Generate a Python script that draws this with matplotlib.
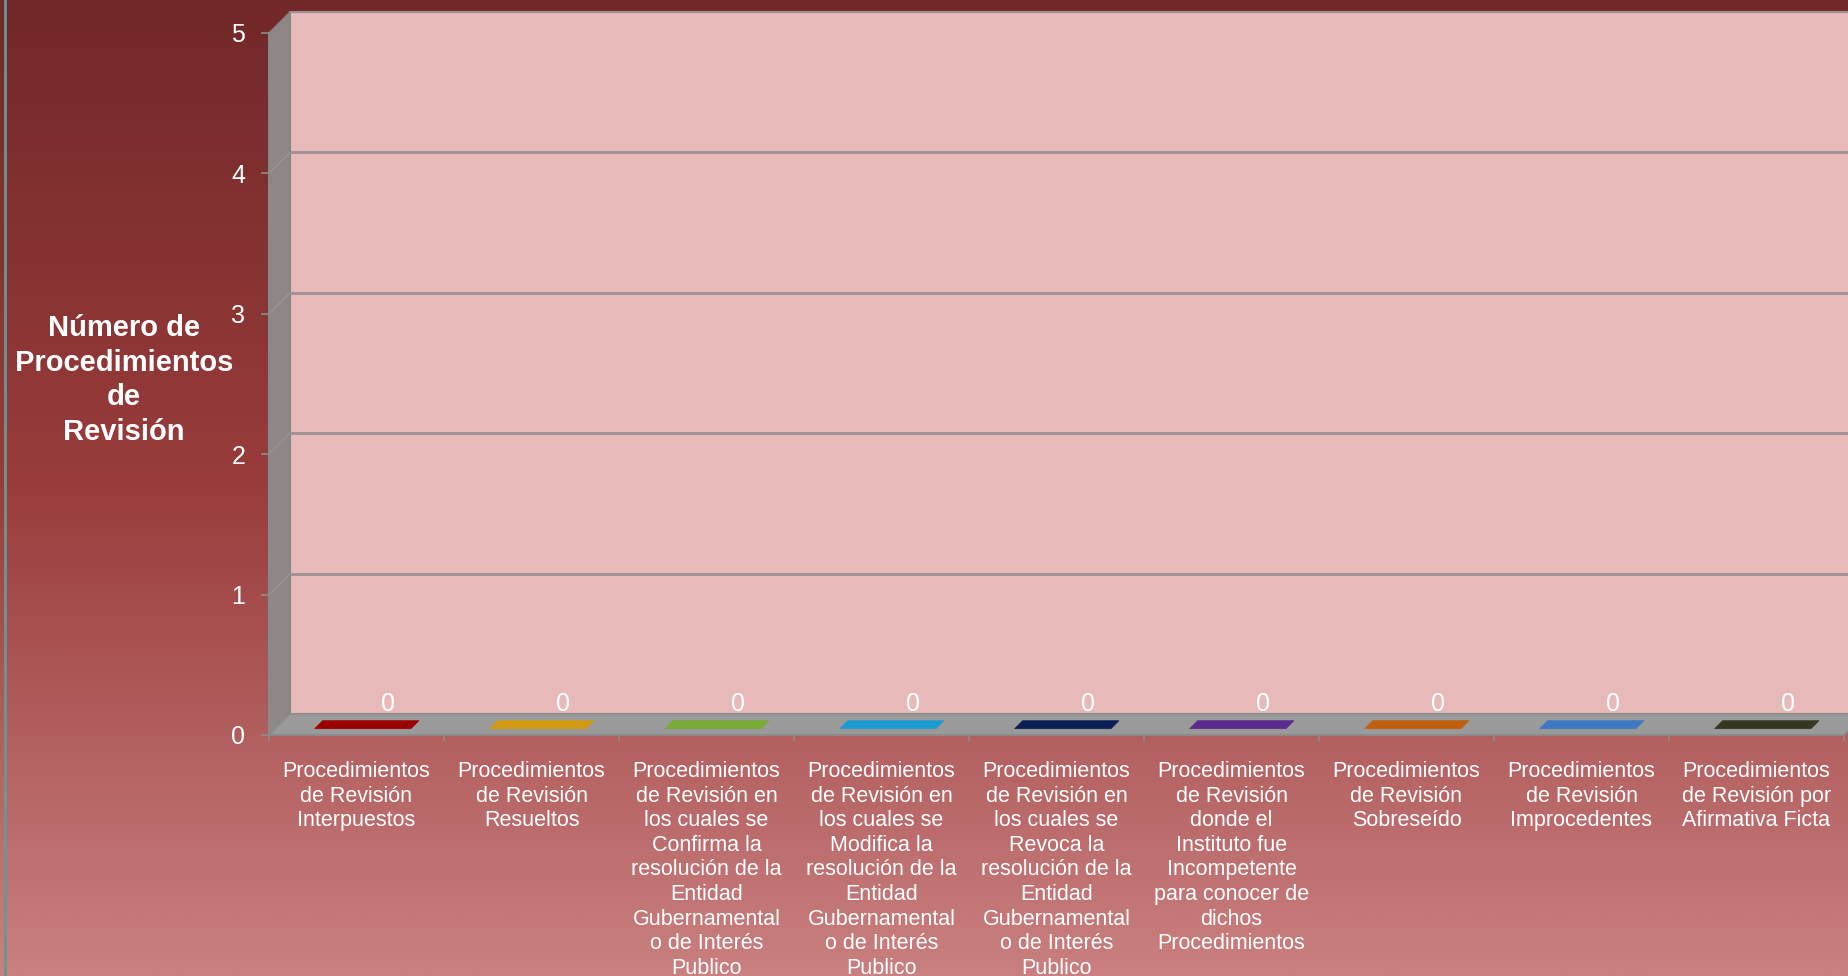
import numpy as np
import matplotlib
matplotlib.use("Agg")
import matplotlib.pyplot as plt
from matplotlib.patches import Polygon
from matplotlib.colors import LinearSegmentedColormap
import matplotlib.transforms as mtransforms

plt.rcParams['font.family'] = ['Liberation Sans', 'DejaVu Sans']

# ---------------- data ----------------
categories = [
    "Procedimientos\nde Revisión\nInterpuestos",
    "Procedimientos\nde Revisión\nResueltos",
    "Procedimientos\nde Revisión en\nlos cuales se\nConfirma la\nresolución de la\nEntidad\nGubernamental\no de Interés\nPublico",
    "Procedimientos\nde Revisión en\nlos cuales se\nModifica la\nresolución de la\nEntidad\nGubernamental\no de Interés\nPublico",
    "Procedimientos\nde Revisión en\nlos cuales se\nRevoca la\nresolución de la\nEntidad\nGubernamental\no de Interés\nPublico",
    "Procedimientos\nde Revisión\ndonde el\nInstituto fue\nIncompetente\npara conocer de\ndichos\nProcedimientos",
    "Procedimientos\nde Revisión\nSobreseído",
    "Procedimientos\nde Revisión\nImprocedentes",
    "Procedimientos\nde Revisión por\nAfirmativa Ficta",
]
values = [0, 0, 0, 0, 0, 0, 0, 0, 0]
bar_colors = ["#9a0000", "#d29a12", "#78ab37", "#1e9ad2", "#0b1f55",
              "#5a2a8c", "#c0600e", "#3f78c2", "#37361f"]
y_ticks = [0, 1, 2, 3, 4, 5]
y_title = "Número de\nProcedimientos\nde\nRevisión"

# ---------------- figure ----------------
W, H, DPI = 1848, 976, 100
fig = plt.figure(figsize=(W / DPI, H / DPI), dpi=DPI)

# gradient background
bg = fig.add_axes([0, 0, 1, 1], zorder=-10)
cmap = LinearSegmentedColormap.from_list(
    "bg", [(0.0, (114/255, 40/255, 40/255)),
           (0.5, (154/255, 60/255, 60/255)),
           (1.0, (202/255, 128/255, 128/255))])
grad = np.linspace(0, 1, 512).reshape(-1, 1)
bg.imshow(grad, aspect="auto", cmap=cmap, extent=[0, 1, 1, 0])
bg.set_xlim(0, 1); bg.set_ylim(1, 0)
bg.axis("off")
bg.axvline(4.5 / W, color="#7c8f8c", lw=2)

# main (front plane) axes
x0, x1 = 269, 1844
y0, y1 = 735, 33
ax = fig.add_axes([x0 / W, 1 - y0 / H, (x1 - x0) / W, (y0 - y1) / H])
ax.set_xlim(-0.5, len(categories) - 0.5)
ax.set_ylim(0, 5)
ax.patch.set_alpha(0)

DX, DY = 21, 21  # depth offset in pixels


def P(x, y, d):
    px, py = ax.transData.transform((x, y))
    return (px + d * DX, py + d * DY)


ident = mtransforms.IdentityTransform()
n = len(categories)

# back wall
bw = [P(-0.5, 0, 1), P(n - 0.5, 0, 1), P(n - 0.5, 5, 1), P(-0.5, 5, 1)]
ax.add_patch(Polygon(bw, closed=True, transform=ident, facecolor="#e7b9b9",
                     edgecolor="#9a8e8e", lw=1.5, clip_on=False, zorder=0))
# side wall
sw = [P(-0.5, 0, 0), P(-0.5, 0, 1), P(-0.5, 5, 1), P(-0.5, 5, 0)]
ax.add_patch(Polygon(sw, closed=True, transform=ident, facecolor="#8f8686",
                     edgecolor="#8a8282", lw=1, clip_on=False, zorder=1))
# gridlines on back wall and side wall
for t in y_ticks[1:-1]:
    a, b = P(-0.5, t, 1), P(n - 0.5, t, 1)
    ax.plot([a[0], b[0]], [a[1], b[1]], transform=ident, color="#a08f91",
            lw=2, clip_on=False, zorder=0.5)
    c = P(-0.5, t, 0)
    ax.plot([c[0], a[0]], [c[1], a[1]], transform=ident, color="#9b9494",
            lw=1, clip_on=False, zorder=1.5)
# floor
fl = [P(-0.5, 0, 0), P(n - 0.5, 0, 0), P(n - 0.5, 0, 1), P(-0.5, 0, 1)]
ax.add_patch(Polygon(fl, closed=True, transform=ident, facecolor="#9a9a9a",
                     edgecolor="#8c8c8c", lw=1, clip_on=False, zorder=2))

# bars (front faces) and their top faces
xs = np.arange(n)
bw_ = 0.55
bar_off = mtransforms.ScaledTranslation(0.3 * DX / DPI, 0.3 * DY / DPI,
                                        fig.dpi_scale_trans)
ax.bar(xs, values, width=bw_, color=bar_colors, zorder=3,
       transform=ax.transData + bar_off)
for x, v, c in zip(xs, values, bar_colors):
    top = [P(x - bw_ / 2, v, 0.3), P(x + bw_ / 2, v, 0.3),
           P(x + bw_ / 2, v, 0.68), P(x - bw_ / 2, v, 0.68)]
    ax.add_patch(Polygon(top, closed=True, transform=ident, facecolor=c,
                         edgecolor=c, lw=0.5, clip_on=False, zorder=4))
    ax.annotate(f"{v}", (x, v), xytext=(23, 22), textcoords="offset points",
                ha="center", va="center", color="white", fontsize=18,
                zorder=5, annotation_clip=False)

# axes styling
for s in ["top", "right"]:
    ax.spines[s].set_visible(False)
ax.spines["left"].set_color("#8c8c8c")
ax.spines["bottom"].set_color("#8c8c8c")
ax.spines["left"].set_linewidth(1.2)
ax.spines["bottom"].set_linewidth(1.2)

ax.set_yticks(y_ticks)
ax.tick_params(axis="y", colors="#8c8c8c", labelcolor="white", labelsize=18,
               length=6, width=1.2, pad=11)
ax.set_xticks(xs)
ax.set_xticklabels(categories)
ax.set_xticks(np.arange(-0.5, n, 1), minor=True)
ax.tick_params(axis="x", which="major", length=0, labelcolor="white",
               labelsize=15.5, pad=19)
ax.tick_params(axis="x", which="minor", length=4, width=1.2, colors="#8c8c8c")
for lab in ax.get_xticklabels():
    lab.set_multialignment("center")
    lab.set_linespacing(1.22)

fig.text(124 / W, 1 - 380 / H, y_title, ha="center", va="center",
         multialignment="center", color="white", fontsize=21,
         fontweight="bold", linespacing=1.3)

fig.savefig("out.png", dpi=DPI)
